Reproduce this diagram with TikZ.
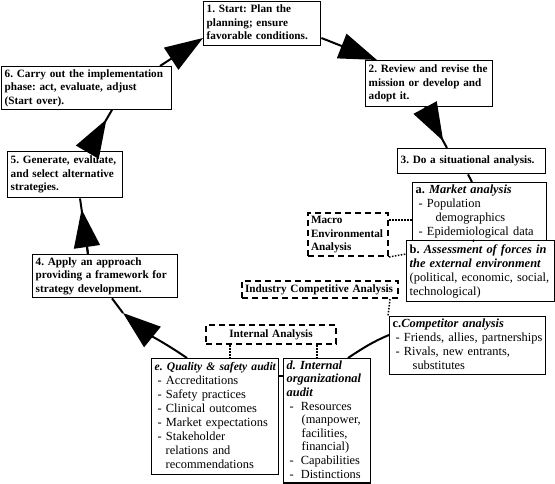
\documentclass[tikz,border=0pt]{standalone}
\usepackage{fontspec}
\setmainfont{Liberation Serif}
\usetikzlibrary{arrows.meta}
\frenchspacing
\newcommand{\tl}[1]{\begin{tabular}{@{}l@{}}#1\end{tabular}}
\tikzset{
  bx/.style={draw, line width=1.4pt, fill=white, anchor=north west, align=left,
    inner xsep=3pt, inner ysep=1pt, font=\fontsize{11.2}{13.5}\selectfont\bfseries},
  sub/.style={bx, font=\fontsize{12.4}{14}\selectfont},
  dbox/.style={draw, line width=2pt, dash pattern=on 6pt off 4pt, anchor=north west, align=left,
    inner xsep=3pt, inner ysep=1pt, font=\fontsize{11.2}{13.5}\selectfont\bfseries},
  conn/.style={line width=2pt},
  big/.style={line width=2pt, -{Triangle[length=38pt,width=26pt]}},
  dot/.style={line width=1.5pt, dash pattern=on 1.5pt off 1.5pt}
}
\begin{document}
\begin{tikzpicture}[x=1pt,y=-1pt]
\useasboundingbox (0,0) rectangle (555,483);
% boxes
\node[bx, minimum width=117pt, minimum height=44pt, text width=111pt] (b1) at (203,1)
 {\tl{1. Start: Plan the\\planning; ensure\\favorable conditions.}};
\node[bx, minimum width=127pt, minimum height=46pt, text width=121pt] (b2) at (365,60)
 {\tl{2. Review and revise the\\mission or develop and\\adopt it.}};
\node[bx, minimum width=148pt, minimum height=25pt, text width=142pt] (b3) at (397,148)
 {\tl{3. Do a situational analysis.}};
\node[sub, minimum width=134pt, minimum height=56pt, text width=128pt] (ba) at (412,182)
 {\tl{\textbf{a. \textit{Market analysis}}\\\hspace*{3pt}- Population\\\hspace*{20pt}demographics\\\hspace*{3pt}- Epidemiological data}};
\node[sub, minimum width=148pt, minimum height=61pt, text width=142pt] (bb) at (406,240)
 {\tl{\textbf{b. \textit{Assessment of forces in}}\\\textbf{\textit{the external environment}}\\(political, economic, social,\\technological)}};
\node[sub, minimum width=156pt, minimum height=56pt, text width=150pt] (bc) at (389,316)
 {\tl{\textbf{c.\textit{Competitor analysis}}\\\hspace*{3pt}- Friends, allies, partnerships\\\hspace*{3pt}- Rivals, new entrants,\\\hspace*{20pt}substitutes}};
\node[sub, minimum width=87pt, minimum height=123pt, text width=81pt, font=\fontsize{12.4}{13.6}\selectfont] (bd) at (283,358)
 {\tl{\textbf{\textit{d. Internal}}\\\textbf{\textit{organizational}}\\\textbf{\textit{audit}}\\\hspace*{3pt}-\hspace*{7pt}Resources\\\hspace*{15pt}(manpower,\\\hspace*{15pt}facilities,\\\hspace*{15pt}financial)\\\hspace*{3pt}-\hspace*{7pt}Capabilities\\\hspace*{3pt}-\hspace*{7pt}Distinctions}};
\node[sub, minimum width=127pt, minimum height=116pt, text width=121pt] (be) at (151,358)
 {\tl{{\fontsize{11.6}{14}\selectfont\textbf{\textit{e. Quality \& safety audit}}}\\\hspace*{3pt}- Accreditations\\\hspace*{3pt}- Safety practices\\\hspace*{3pt}- Clinical outcomes\\\hspace*{3pt}- Market expectations\\\hspace*{3pt}- Stakeholder\\\hspace*{11pt}relations and\\\hspace*{11pt}recommendations}};
\node[bx, minimum width=145pt, minimum height=43pt, text width=139pt] (b4) at (32,254)
 {\tl{4. Apply an approach\\providing a framework for\\strategy development.}};
\node[bx, minimum width=115pt, minimum height=46pt, text width=109pt] (b5) at (7,151)
 {\tl{5. Generate, evaluate,\\and select alternative\\strategies.}};
\node[bx, minimum width=170pt, minimum height=41pt, text width=164pt] (b6) at (1,66)
 {\tl{6. Carry out the implementation\\phase: act, evaluate, adjust\\(Start over).}};
% dashed boxes
\node[dbox, minimum width=80pt, minimum height=43pt, text width=74pt] (mac) at (307,212)
 {\tl{Macro\\Environmental\\Analysis}};
\node[dbox, minimum width=156pt, minimum height=17pt, text width=150pt] (ind) at (241,280)
 {\tl{Industry Competitive Analysis}};
\node[dbox, minimum width=130pt, minimum height=19pt, text width=124pt, align=center] (intl) at (205,324)
 {Internal Analysis};
% dotted connectors
\draw[dot] ([yshift=-8pt]mac.north east) -- ([yshift=-38pt]ba.north west);
\draw[dot] (mac.south east) -- ([yshift=-14pt]bb.north west);
\draw[dot] ([xshift=-9pt]ind.south east) -- ([xshift=-1pt]bc.north west);
\draw[dot] ([xshift=25pt]intl.south west) -- ([xshift=79pt]be.north west);
\draw[dot] ([xshift=112pt]intl.south west) -- ([xshift=34pt]bd.north west);
% solid connectors
\draw[conn] ([xshift=71pt]b3.south west) -- ([xshift=60pt]ba.north west);
\draw[conn] ([xshift=62pt]ba.south west) -- ([xshift=67pt]bb.north west);
\draw[conn] ([yshift=-18pt]be.north east) -- ([yshift=-18pt]bd.north west);
\draw[conn] ([yshift=-19pt]bc.north west) .. controls (372,342) and (360,350) .. ([xshift=65pt]bd.north west);
% big arrows
\draw[big] ([xshift=159pt]b6.north west) -- ([yshift=-37pt]b1.north west);
\draw[big] ([yshift=-37pt]b1.north east) -- ([xshift=12pt]b2.north west);
\draw[conn] ([xshift=60pt]b2.south west) -- ([xshift=50pt]b3.north west);
\draw[big, shorten >=8pt] ([xshift=60pt]b2.south west) -- ([xshift=50pt]b3.north west);
\draw[conn] ([xshift=56pt]b4.north west) -- ([xshift=73pt]b5.south west);
\draw[big, shorten >=11pt] ([xshift=56pt]b4.north west) -- ([xshift=73pt]b5.south west);
\draw[conn] ([xshift=81pt]b5.north west) -- ([xshift=111pt]b6.south west);
\draw[big, shorten >=11pt] ([xshift=81pt]b5.north west) -- ([xshift=111pt]b6.south west);
\coordinate (t4) at (123,313);
\draw[big] ([xshift=36pt]be.north west) .. controls (168,345) and (150,335) .. (t4);
\draw[conn] (t4) -- ([xshift=80pt]b4.south west);
\end{tikzpicture}
\end{document}
